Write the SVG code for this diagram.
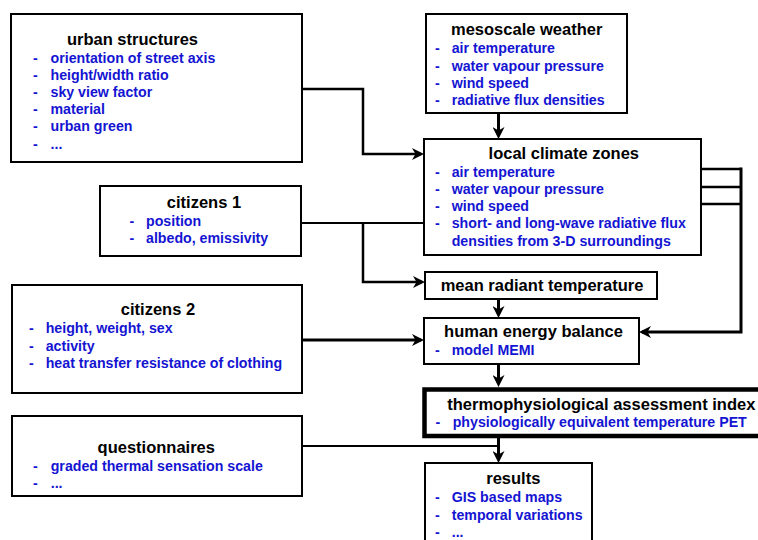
<svg xmlns="http://www.w3.org/2000/svg" width="758" height="540" viewBox="0 0 758 540">
<style>
.box{fill:#fff;stroke:#000;stroke-width:2}
.thick{fill:#fff;stroke:#000;stroke-width:4.5}
.t{font-family:"Liberation Sans",Arial,sans-serif;font-weight:bold;font-size:16.5px;fill:#000;text-anchor:middle}
.i{font-family:"Liberation Sans",Arial,sans-serif;font-weight:bold;font-size:14.2px;fill:#1414d2}
.c{fill:none;stroke:#000;stroke-width:2.5}
.c3{fill:none;stroke:#000;stroke-width:3}
.c2{fill:none;stroke:#000;stroke-width:2}
</style>
<defs>
<marker id="ah" markerUnits="userSpaceOnUse" viewBox="0 0 12 12" markerWidth="12" markerHeight="12" refX="9" refY="6" orient="auto">
<path d="M0,0 L12,6 L0,12 L3.5,6 z" fill="#000"/>
</marker>
</defs>
<rect width="758" height="540" fill="#fff"/>

<g id="connectors">
<path class="c" d="M302,89 H363 V154 H421" marker-end="url(#ah)"/>
<path class="c3" d="M498.5,113 V136" marker-end="url(#ah)"/>
<path class="c2" d="M301,223 H424"/>
<path class="c" d="M363,223 V282 H422" marker-end="url(#ah)"/>
<path class="c3" d="M498.5,299 V315" marker-end="url(#ah)"/>
<path class="c" d="M701,169 H741 M701,187 H741 M701,204 H741"/>
<path class="c3" d="M741,167.5 V332 H642" marker-end="url(#ah)"/>
<path class="c3" d="M302,340 H421" marker-end="url(#ah)"/>
<path class="c3" d="M498.5,364 V384" marker-end="url(#ah)"/>
<path class="c3" d="M498.5,438 V460" marker-end="url(#ah)"/>
<path class="c2" d="M302,446 H498.5"/>
</g>

<g id="urban-structures">
<rect class="box" x="11" y="14" width="291" height="148"/>
<text class="t" x="132.5" y="45">urban structures</text>
<g class="i">
<text x="33" y="62.5">-</text><text x="50.5" y="62.5">orientation of street axis</text>
<text x="33" y="79.7">-</text><text x="50.5" y="79.7">height/width ratio</text>
<text x="33" y="96.9">-</text><text x="50.5" y="96.9">sky view factor</text>
<text x="33" y="114.1">-</text><text x="50.5" y="114.1">material</text>
<text x="33" y="131.3">-</text><text x="50.5" y="131.3">urban green</text>
<text x="33" y="148.5">-</text><text x="50.5" y="148.5">...</text>
</g>
</g>

<g id="mesoscale-weather">
<rect class="box" x="426" y="14" width="201" height="99"/>
<text class="t" x="526.7" y="35">mesoscale weather</text>
<g class="i">
<text x="435" y="53.3">-</text><text x="451.7" y="53.3">air temperature</text>
<text x="435" y="70.5">-</text><text x="451.7" y="70.5">water vapour pressure</text>
<text x="435" y="87.7">-</text><text x="451.7" y="87.7">wind speed</text>
<text x="435" y="104.9">-</text><text x="451.7" y="104.9">radiative flux densities</text>
</g>
</g>

<g id="local-climate-zones">
<rect class="box" x="424" y="139" width="277" height="116"/>
<text class="t" x="563.8" y="159.3">local climate zones</text>
<g class="i">
<text x="435" y="176.7">-</text><text x="451.7" y="176.7">air temperature</text>
<text x="435" y="193.9">-</text><text x="451.7" y="193.9">water vapour pressure</text>
<text x="435" y="211.1">-</text><text x="451.7" y="211.1">wind speed</text>
<text x="435" y="228.3">-</text><text x="451.7" y="228.3">short- and long-wave radiative flux</text>
<text x="451.7" y="245.5">densities from 3-D surroundings</text>
</g>
</g>

<g id="citizens-1">
<rect class="box" x="100" y="186" width="201" height="70"/>
<text class="t" x="204" y="208.3">citizens 1</text>
<g class="i">
<text x="129.5" y="226">-</text><text x="146" y="226">position</text>
<text x="129.5" y="243.3">-</text><text x="146" y="243.3">albedo, emissivity</text>
</g>
</g>

<g id="mean-radiant-temperature">
<rect class="box" x="425" y="272" width="232" height="27"/>
<text class="t" x="542" y="290.5">mean radiant temperature</text>
</g>

<g id="citizens-2">
<rect class="box" x="12" y="285" width="290" height="108"/>
<text class="t" x="158" y="315">citizens 2</text>
<g class="i">
<text x="29" y="333.3">-</text><text x="45.7" y="333.3">height, weight, sex</text>
<text x="29" y="350.5">-</text><text x="45.7" y="350.5">activity</text>
<text x="29" y="367.7">-</text><text x="45.7" y="367.7">heat transfer resistance of clothing</text>
</g>
</g>

<g id="human-energy-balance">
<rect class="box" x="424" y="318" width="215" height="46"/>
<text class="t" x="533.5" y="336.7">human energy balance</text>
<g class="i">
<text x="435" y="355">-</text><text x="451.7" y="355">model MEMI</text>
</g>
</g>

<g id="thermophysiological-assessment-index">
<rect class="thick" x="424.5" y="389.5" width="360" height="46.5"/>
<text class="t" x="601.3" y="410">thermophysiological assessment index</text>
<g class="i">
<text x="435.5" y="426.7">-</text><text x="452.7" y="426.7">physiologically equivalent temperature PET</text>
</g>
</g>

<g id="questionnaires">
<rect class="box" x="12" y="416" width="290" height="80"/>
<text class="t" x="156.3" y="453.3">questionnaires</text>
<g class="i">
<text x="33" y="471">-</text><text x="50.7" y="471">graded thermal sensation scale</text>
<text x="33" y="488">-</text><text x="50.7" y="488">...</text>
</g>
</g>

<g id="results">
<rect class="box" x="425" y="463" width="167" height="90"/>
<text class="t" x="513.3" y="484.3">results</text>
<g class="i">
<text x="435" y="502.3">-</text><text x="451.7" y="502.3">GIS based maps</text>
<text x="435" y="519.5">-</text><text x="451.7" y="519.5">temporal variations</text>
<text x="435" y="536.7">-</text><text x="451.7" y="536.7">...</text>
</g>
</g>
</svg>
